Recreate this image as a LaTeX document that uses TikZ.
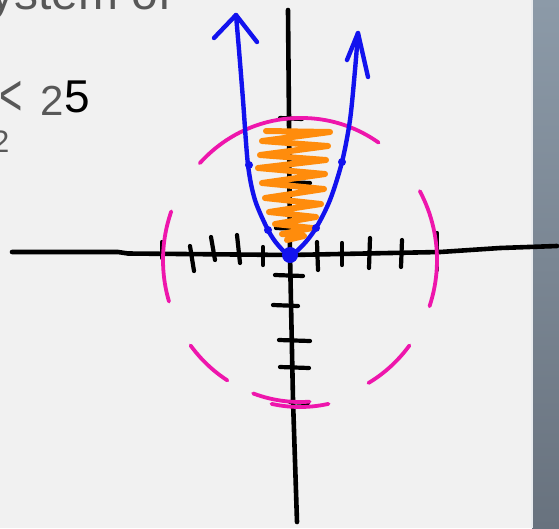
\documentclass[tikz,border=0pt]{standalone}
\usepackage{fontspec}
\setmainfont{Liberation Sans}
\definecolor{paper}{RGB}{241,241,241}
\definecolor{striptop}{RGB}{140,154,168}
\definecolor{stripbot}{RGB}{104,114,126}
\definecolor{slidegray}{RGB}{88,88,88}
\definecolor{penblue}{RGB}{18,18,238}
\definecolor{penpink}{RGB}{238,22,172}
\definecolor{penorange}{RGB}{255,140,12}

\begin{document}
\begin{tikzpicture}[x=1pt, y=-1pt,
    ax/.style={line width=4.6pt, line cap=round, line join=round},
    tk/.style={line width=4.2pt, line cap=round},
    pink/.style={line width=3.8pt, penpink, line cap=round},
    par/.style={line width=4.4pt, penblue, line cap=round, line join=round},
    scrib/.style={line width=6pt, penorange, line cap=round, line join=round},
    txt/.style={anchor=base west, inner sep=0pt, text=slidegray}
  ]
  \useasboundingbox (0,0) rectangle (559,528);
  \clip (0,0) rectangle (559,528);
  \fill[paper] (0,0) rectangle (559,528);
  \shade[top color=striptop, bottom color=stripbot] (532,0) rectangle (559,528);
  \fill[white!80!striptop] (531,0) rectangle (533,528);

  % slide text
  \node[txt, font=\fontsize{48}{48}\selectfont] (title) at (-42,9) {System of};
  \node[txt, font=\fontsize{42}{42}\selectfont] (lt) at (-1,115) {\scalebox{0.95}[1.4]{<}};
  \node[txt, font=\fontsize{42}{42}\selectfont] (two) at (40,115) {2};
  \node[txt, text=black, font=\fontsize{46}{46}\selectfont] (five) at (64,112) {5};
  \node[txt, font=\fontsize{31}{31}\selectfont] (sq) at (-8,152) {2};

  % axes
  \coordinate (O) at (290,255);
  \draw[ax] (12,252) -- (118,252) -- (128,253.5) -- (O) -- (440,252) -- (500,248) -- (557,246);
  \draw[ax] (288,10) -- (289,120) -- (O) -- (293,400) -- (297,522);
  \foreach \x/\ya/\yb/\d in {162/242/258/0, 190/246/271/4, 211/237/260/4, 237/235/263/3,
      263/247/265/0, 317/242/270/1, 342/243/265/0, 370/238/268/-1, 402/240/267/-1, 437/233/270/0}
    \draw[tk] (\x,\ya) -- (\x+\d,\yb);
  \foreach \y/\xa/\xb in {118/280/302, 158/290/304, 182/280/310, 228/276/300,
      275/275/303, 305/273/298, 340/279/310, 367/280/309, 402/290/308}
    \draw[tk] (\xa,\y) -- (\xb,\y+1);

  % circle x^2+y^2=25
  \foreach \a/\b in {92/137, 160/197, 217/238, 250/274, 300/323, -19/29}
    \draw[pink] plot[domain=\a:\b, samples=25] ({300+137*cos(\x)},{260-142*sin(\x)});
  \draw[pink] plot[domain=56:94, samples=25] ({302+137*cos(\x)},{262-144*sin(\x)});
  \draw[pink] plot[domain=258:282, samples=15] ({300+137*cos(\x)},{263-144*sin(\x)});

  % shaded region
  \draw[scrib] (266,131) -- (330,132) -- (262,141) -- (328,146) -- (260,155) -- (326,160)
    -- (258,168) -- (325,174) -- (262,183) -- (324,189) -- (265,198) -- (321,204)
    -- (269,212) -- (316,217) -- (275,224) -- (312,228) -- (282,234) -- (304,236) -- (287,240);

  % parabola
  \coordinate (tipL) at (236,15);
  \coordinate (tipR) at (358,33);
  \draw[par] plot[smooth] coordinates {(236,15) (239,50) (243,100) (248,165) (255,200)
    (268,230) (278,245) (290,255) (303,245) (316,228) (330,200) (342,162) (350,120) (355,70) (358,33)};
  \draw[par] (214,38) -- (tipL) -- (257,42);
  \draw[par] (347,60) -- (tipR) -- (368,77);
  \fill[penblue] (O) circle (8);
  \foreach \p in {(249,165), (268,230), (342,162), (316,228)}
    \fill[penblue] \p circle (4);
\end{tikzpicture}
\end{document}
